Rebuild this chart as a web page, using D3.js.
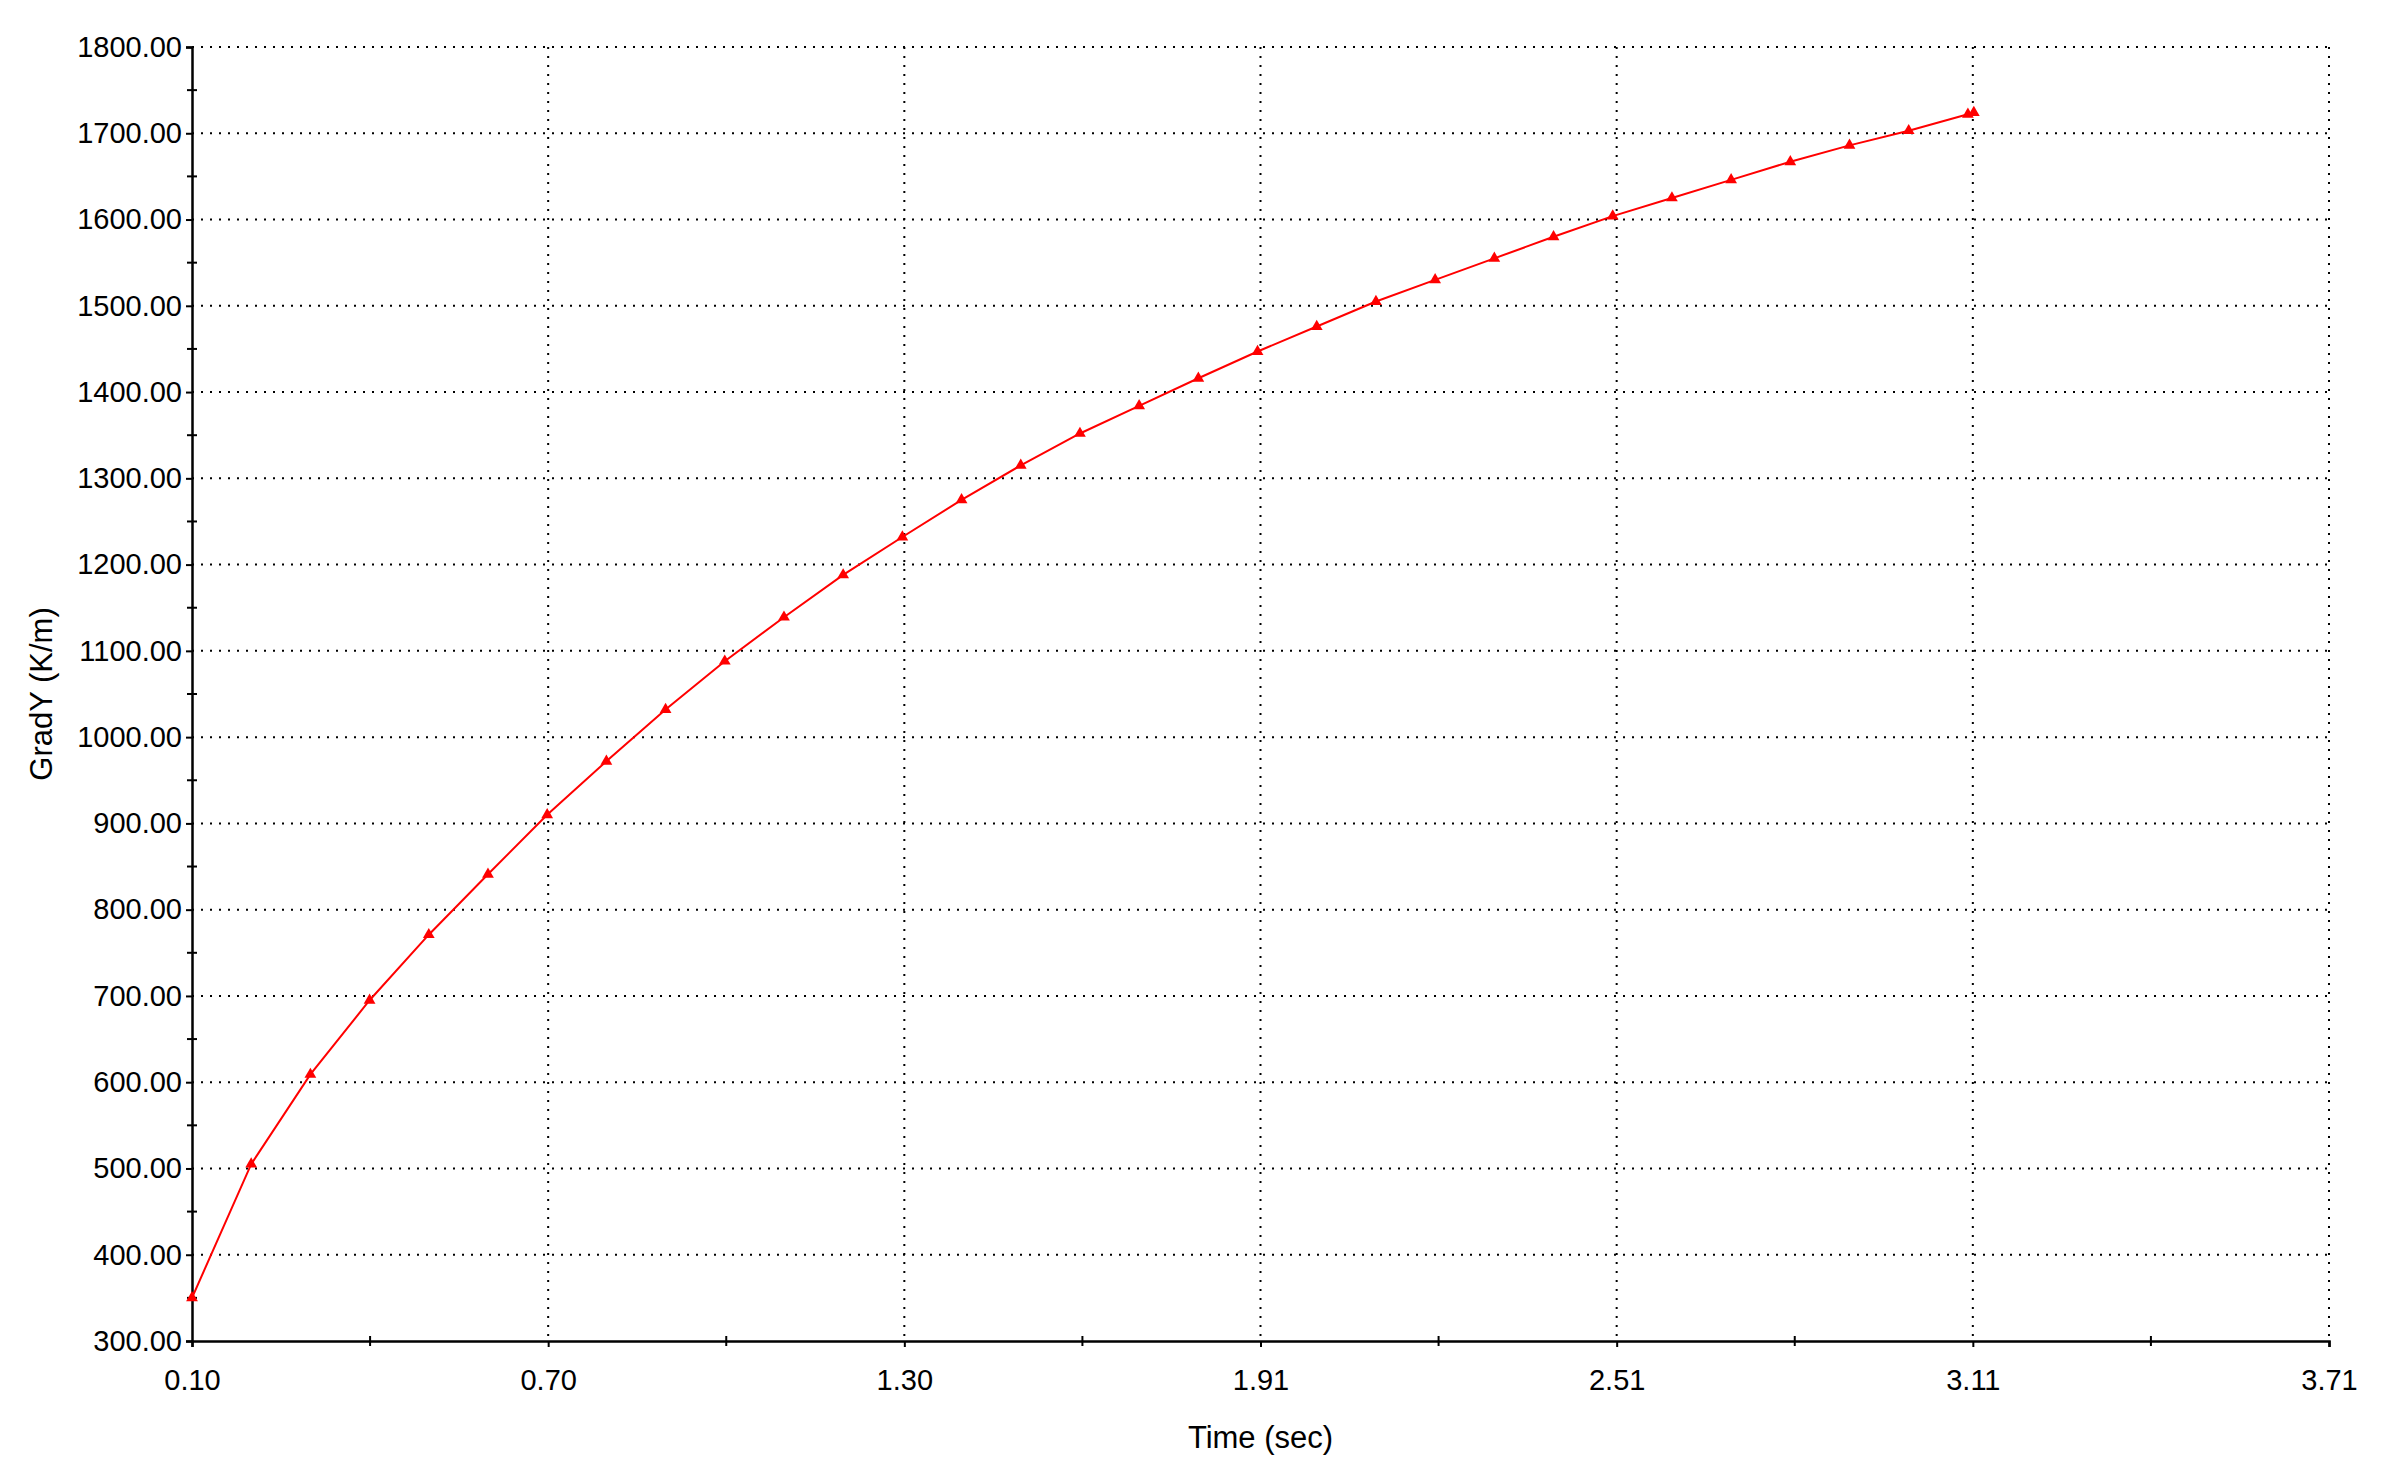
<!DOCTYPE html>
<html>
<head>
<meta charset="utf-8">
<script src="https://cdn.jsdelivr.net/npm/d3@7"></script>
<style>
  body { margin: 0; background: #fff; }
  text { font-family: "Liberation Sans", Arial, sans-serif; fill: #000; }
</style>
</head>
<body>
<div id="chart"></div>
<script>
// data
let times = [0.1, 0.2, 0.3, 0.4, 0.5, 0.6, 0.7, 0.8, 0.9, 1.0,
             1.1, 1.2, 1.3, 1.4, 1.5, 1.6, 1.7, 1.8, 1.9, 2.0,
             2.1, 2.2, 2.3, 2.4, 2.5, 2.6, 2.7, 2.8, 2.9, 3.0,
             3.1, 3.11];
let gradY = [350, 505, 609, 695, 771, 841, 910, 972, 1032, 1088,
             1139, 1188, 1232, 1275, 1315, 1352, 1384, 1416, 1447, 1476,
             1505, 1530, 1555, 1580, 1604, 1625, 1646, 1667, 1686, 1703,
             1722, 1724];
let xTickLabels = ["0.10", "0.70", "1.30", "1.91", "2.51", "3.11", "3.71"];
let yTickLabels = ["300.00", "400.00", "500.00", "600.00", "700.00", "800.00",
                   "900.00", "1000.00", "1100.00", "1200.00", "1300.00",
                   "1400.00", "1500.00", "1600.00", "1700.00", "1800.00"];

let width = 2398, height = 1478;
let margin = {left: 192, right: 69, top: 47, bottom: 137};
let plotW = width - margin.left - margin.right;
let plotH = height - margin.top - margin.bottom;

let xMin = 0.1, xMax = 3.71, yMin = 300, yMax = 1800;
let xStep = (xMax - xMin) / (xTickLabels.length - 1);
let xMajor = xTickLabels.map((d, i) => xMin + i * xStep);
let xMinor = xMajor.slice(0, -1).map(d => d + xStep / 2);
let yMajor = yTickLabels.map(d => +d);
let yMinor = yMajor.slice(0, -1).map(d => d + 50);

let x = d3.scaleLinear().domain([xMin, xMax]).range([0, plotW]);
let y = d3.scaleLinear().domain([yMin, yMax]).range([plotH, 0]);

let svg = d3.select("#chart").append("svg")
  .attr("width", width)
  .attr("height", height);

let g = svg.append("g")
  .attr("transform", `translate(${margin.left},${margin.top})`);

// dotted grid
g.selectAll(".hgrid")
  .data(yMajor.slice(1))
  .enter().append("line")
  .attr("x1", 0).attr("x2", plotW)
  .attr("y1", d => y(d)).attr("y2", d => y(d))
  .attr("stroke", "#000")
  .attr("stroke-width", 2)
  .attr("stroke-dasharray", "2 7");

g.selectAll(".vgrid")
  .data(xMajor.slice(1))
  .enter().append("line")
  .attr("x1", d => x(d)).attr("x2", d => x(d))
  .attr("y1", 0).attr("y2", plotH)
  .attr("stroke", "#000")
  .attr("stroke-width", 2)
  .attr("stroke-dasharray", "2 7");

// axes
let xAxis = d3.axisBottom(x)
  .tickValues(xMajor)
  .tickFormat((d, i) => xTickLabels[i])
  .tickSize(6)
  .tickPadding(22);
let gx = g.append("g")
  .attr("transform", `translate(0,${plotH})`)
  .call(xAxis);

let yAxis = d3.axisLeft(y)
  .tickValues(yMajor)
  .tickFormat((d, i) => yTickLabels[i])
  .tickSize(6)
  .tickPadding(4);
let gy = g.append("g").call(yAxis);

[gx, gy].forEach(a => {
  a.select(".domain").attr("stroke", "#000").attr("stroke-width", 2.5);
  a.selectAll(".tick line").attr("stroke", "#000").attr("stroke-width", 2);
  a.selectAll(".tick text").style("font-size", "29px");
});

// minor ticks crossing the axis lines
g.selectAll(".xminor")
  .data(xMinor)
  .enter().append("line")
  .attr("x1", d => x(d)).attr("x2", d => x(d))
  .attr("y1", plotH - 5).attr("y2", plotH + 5)
  .attr("stroke", "#000").attr("stroke-width", 2);

g.selectAll(".yminor")
  .data(yMinor)
  .enter().append("line")
  .attr("x1", -5).attr("x2", 5)
  .attr("y1", d => y(d)).attr("y2", d => y(d))
  .attr("stroke", "#000").attr("stroke-width", 2);

// series
let points = times.map((t, i) => [t, gradY[i]]);

let line = d3.line()
  .x(d => x(d[0]))
  .y(d => y(d[1]));

g.append("path")
  .datum(points)
  .attr("d", line)
  .attr("fill", "none")
  .attr("stroke", "#ff0000")
  .attr("stroke-width", 2);

let tri = d3.symbol().type(d3.symbolTriangle).size(60);
g.selectAll(".marker")
  .data(points)
  .enter().append("path")
  .attr("d", tri)
  .attr("transform", d => `translate(${x(d[0])},${y(d[1])})`)
  .attr("fill", "#ff0000");

// axis titles
svg.append("text")
  .attr("x", margin.left + plotW / 2)
  .attr("y", 1448)
  .attr("text-anchor", "middle")
  .style("font-size", "31px")
  .text("Time (sec)");

svg.append("text")
  .attr("transform", `translate(52,${margin.top + plotH / 2}) rotate(-90)`)
  .attr("text-anchor", "middle")
  .style("font-size", "31px")
  .text("GradY (K/m)");
</script>
</body>
</html>
